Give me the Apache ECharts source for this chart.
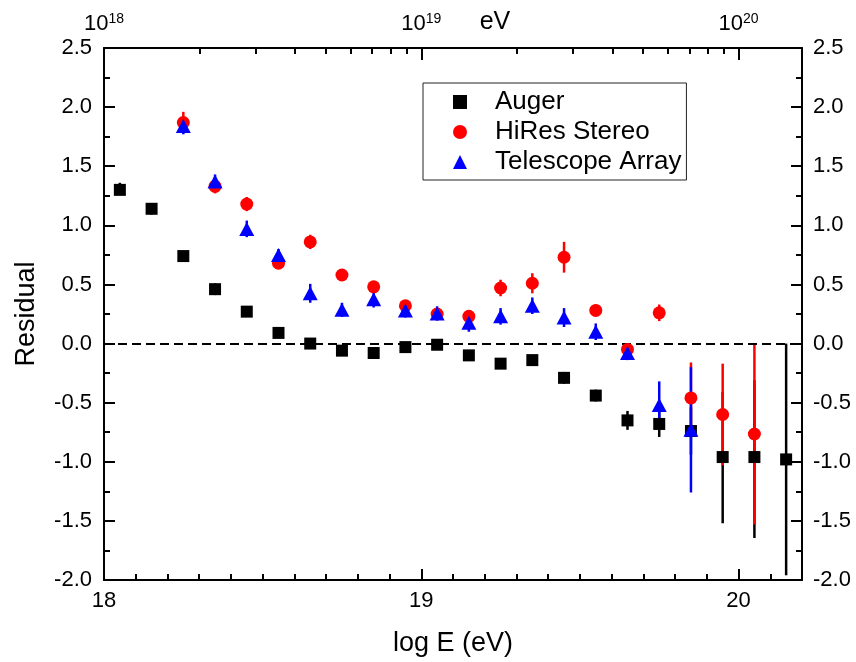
<!DOCTYPE html>
<html>
<head>
<meta charset="utf-8">
<script src="https://cdn.jsdelivr.net/npm/echarts@6/dist/echarts.min.js"></script>
<style>
  html, body { margin: 0; padding: 0; background: #fff; }
  #chart { width: 856px; height: 662px; }
</style>
</head>
<body>
<div id="chart"></div>
<script>
// log10 of energy (bin centres) for each experiment
const augerLogE = [18.05, 18.15, 18.25, 18.35, 18.45, 18.55, 18.65, 18.75, 18.85, 18.95, 19.05,
                   19.15, 19.25, 19.35, 19.45, 19.55, 19.65, 19.75, 19.85, 19.95, 20.05, 20.15];
const augerResidual = [1.30, 1.14, 0.74, 0.46, 0.27, 0.09, 0.00, -0.06, -0.08, -0.03, -0.01,
                       -0.10, -0.17, -0.14, -0.29, -0.44, -0.65, -0.68, -0.74, -0.96, -0.96, -0.98];
const augerErrUp   = [0.06, 0.04, 0.03, 0.05, 0.03, 0.02, 0.02, 0.02, 0.02, 0.02, 0.02,
                      0.03, 0.03, 0.04, 0.05, 0.05, 0.08, 0.10, 0.20, 0.55, 0.65, 0.98];
const augerErrDown = [0.04, 0.05, 0.03, 0.05, 0.03, 0.02, 0.02, 0.02, 0.02, 0.02, 0.02,
                      0.03, 0.03, 0.04, 0.05, 0.05, 0.08, 0.11, 0.20, 0.56, 0.685, 0.98];

const hiresLogE = [18.25, 18.35, 18.45, 18.55, 18.65, 18.75, 18.85, 18.95, 19.05, 19.15,
                   19.25, 19.35, 19.45, 19.55, 19.65, 19.75, 19.85, 19.95, 20.05];
const hiresResidual = [1.87, 1.33, 1.18, 0.68, 0.86, 0.58, 0.48, 0.32, 0.25, 0.23,
                       0.47, 0.51, 0.73, 0.28, -0.05, 0.26, -0.46, -0.60, -0.765];
const hiresErr = [0.09, 0.06, 0.06, 0.04, 0.06, 0.04, 0.04, 0.04, 0.04, 0.04,
                  0.07, 0.085, 0.13, 0.05, 0.04, 0.07, 0.30, 0.43, 0.765];

const taLogE = [18.25, 18.35, 18.45, 18.55, 18.65, 18.75, 18.85, 18.95, 19.05, 19.15,
                19.25, 19.35, 19.45, 19.55, 19.65, 19.75, 19.85];
const taResidual = [1.84, 1.37, 0.97, 0.75, 0.425, 0.285, 0.375, 0.28, 0.255, 0.175,
                    0.23, 0.32, 0.22, 0.10, -0.08, -0.52, -0.73];
const taErr = [0.07, 0.06, 0.07, 0.05, 0.08, 0.06, 0.07, 0.06, 0.06, 0.075,
               0.07, 0.07, 0.08, 0.07, 0.06, 0.20, 0.53];

// axis ticks
const logEMajorTicks = [18, 19, 20];
const logEMinorTicks = [18.1, 18.2, 18.3, 18.4, 18.5, 18.6, 18.7, 18.8, 18.9,
                        19.1, 19.2, 19.3, 19.4, 19.5, 19.6, 19.7, 19.8, 19.9, 20.1];
const decadeExponents = [18, 19, 20];
const decadeMantissas = [2, 3, 4, 5, 6, 7, 8, 9];

const X_MIN = 18, X_MAX = 20.2;
const Y_MIN = -2.0, Y_MAX = 2.5;
const FONT = "'Liberation Sans', Arial, sans-serif";

// log-spaced minor ticks for the energy (eV) axis
const energyMinorTicks = [];
decadeExponents.forEach(function (e) {
  decadeMantissas.forEach(function (m) {
    const v = e + Math.log10(m);
    if (v < X_MAX) energyMinorTicks.push(v);
  });
});

function points(xs, ys) {
  return xs.map(function (x, i) { return [x, ys[i]]; });
}
function bars(xs, ys, down, up) {
  return xs.map(function (x, i) { return [x, ys[i] - down[i], ys[i] + up[i]]; });
}
function errorBarSeries(name, data, color, z) {
  return {
    type: 'custom',
    name: name,
    data: data,
    z: z,
    silent: true,
    encode: { x: 0, y: [1, 2] },
    renderItem: function (params, api) {
      const a = api.coord([api.value(0), api.value(1)]);
      const b = api.coord([api.value(0), api.value(2)]);
      return {
        type: 'line',
        shape: { x1: a[0], y1: a[1], x2: b[0], y2: b[1] },
        style: { stroke: color, lineWidth: 2.5 }
      };
    }
  };
}

const axisLineStyle = { color: '#000', width: 2 };
const labelStyle = { color: '#000', fontFamily: FONT, fontSize: 22 };
const titleStyle = { color: '#000', fontFamily: FONT, fontSize: 27 };

const chart = echarts.init(document.getElementById('chart'), null, { renderer: 'canvas' });

chart.setOption({
  animation: false,
  backgroundColor: '#fff',
  grid: { left: 104, right: 54, top: 48, bottom: 82, containLabel: false, outerBoundsMode: 'none' },
  legend: {
    data: ['Auger', 'HiRes Stereo', 'Telescope Array'],
    orient: 'vertical',
    left: 423,
    top: 83,
    padding: [6, 5, 5, 30],
    itemGap: 4,
    itemWidth: 14,
    itemHeight: 14,
    borderColor: '#222',
    borderWidth: 1,
    selectedMode: false,
    textStyle: { color: '#000', fontFamily: FONT, fontSize: 26, lineHeight: 26, padding: [0, 0, 0, 23] }
  },
  xAxis: [
    { // bottom: log E, labelled integers
      type: 'value', position: 'bottom', min: X_MIN, max: X_MAX,
      name: 'log E (eV)', nameLocation: 'middle', nameGap: 50, nameMoveOverlap: false,
      nameTextStyle: titleStyle,
      axisLine: { show: true, onZero: false, lineStyle: axisLineStyle },
      axisTick: { show: true, inside: true, length: 11, customValues: logEMajorTicks, lineStyle: axisLineStyle },
      axisLabel: { margin: 10, customValues: logEMajorTicks, formatter: function (v) { return String(Math.round(v)); }, ...labelStyle },
      splitLine: { show: false }
    },
    { // bottom: minor ticks
      type: 'value', position: 'bottom', min: X_MIN, max: X_MAX,
      axisLine: { show: false, onZero: false },
      axisTick: { show: true, inside: true, length: 6, customValues: logEMinorTicks, lineStyle: axisLineStyle },
      axisLabel: { show: false },
      splitLine: { show: false }
    },
    { // top: energy in eV, decades
      type: 'value', position: 'top', min: X_MIN, max: X_MAX,
      name: 'eV', nameLocation: 'middle', nameGap: 13, nameMoveOverlap: false,
      nameTextStyle: { color: '#000', fontFamily: FONT, fontSize: 25, padding: [0, 0, 0, 84] },
      axisLine: { show: true, onZero: false, lineStyle: axisLineStyle },
      axisTick: { show: true, inside: true, length: 12, customValues: decadeExponents, lineStyle: axisLineStyle },
      axisLabel: {
        margin: 13,
        customValues: decadeExponents,
        formatter: function (v) { return '{b|10}{s|' + Math.round(v) + '}'; },
        rich: {
          b: { color: '#000', fontFamily: FONT, fontSize: 22 },
          s: { color: '#000', fontFamily: FONT, fontSize: 14, verticalAlign: 'top', padding: [0, 0, 9, 0] }
        }
      },
      splitLine: { show: false }
    },
    { // top: log-spaced minor ticks
      type: 'value', position: 'top', min: X_MIN, max: X_MAX,
      axisLine: { show: false, onZero: false },
      axisTick: { show: true, inside: true, length: 6, customValues: energyMinorTicks, lineStyle: axisLineStyle },
      axisLabel: { show: false },
      splitLine: { show: false }
    }
  ],
  yAxis: [
    {
      type: 'value', position: 'left', min: Y_MIN, max: Y_MAX, interval: 0.5,
      name: 'Residual', nameLocation: 'middle', nameGap: 64, nameMoveOverlap: false,
      nameTextStyle: titleStyle,
      axisLine: { show: true, onZero: false, lineStyle: axisLineStyle },
      axisTick: { show: true, inside: true, length: 11, lineStyle: axisLineStyle },
      minorTick: { show: true, splitNumber: 2, length: 6, lineStyle: axisLineStyle },
      axisLabel: { margin: 12, formatter: function (v) { return v.toFixed(1); }, ...labelStyle },
      splitLine: { show: false }
    },
    {
      type: 'value', position: 'right', min: Y_MIN, max: Y_MAX, interval: 0.5,
      axisLine: { show: true, onZero: false, lineStyle: axisLineStyle },
      axisTick: { show: true, inside: true, length: 11, lineStyle: axisLineStyle },
      minorTick: { show: true, splitNumber: 2, length: 6, lineStyle: axisLineStyle },
      axisLabel: { margin: 11, formatter: function (v) { return v.toFixed(1); }, ...labelStyle },
      splitLine: { show: false }
    }
  ],
  series: [
    { // zero reference line
      type: 'line', name: 'zero', data: [], z: 1, silent: true,
      markLine: {
        silent: true, symbol: ['none', 'none'], label: { show: false },
        lineStyle: { color: '#000', width: 2, type: [9, 5] },
        data: [{ yAxis: 0 }]
      }
    },
    errorBarSeries('Auger error', bars(augerLogE, augerResidual, augerErrDown, augerErrUp), '#000', 2),
    errorBarSeries('HiRes error', bars(hiresLogE, hiresResidual, hiresErr, hiresErr), '#ff0000', 3),
    errorBarSeries('TA error', bars(taLogE, taResidual, taErr, taErr), '#0000ff', 4),
    {
      type: 'scatter', name: 'Auger', data: points(augerLogE, augerResidual), z: 5,
      symbol: 'rect', symbolSize: 12, itemStyle: { color: '#000', opacity: 1 }
    },
    {
      type: 'scatter', name: 'HiRes Stereo', data: points(hiresLogE, hiresResidual), z: 6,
      symbol: 'circle', symbolSize: 13, itemStyle: { color: '#ff0000', opacity: 1 }
    },
    {
      type: 'scatter', name: 'Telescope Array', data: points(taLogE, taResidual), z: 7,
      symbol: 'triangle', symbolSize: [15, 14], itemStyle: { color: '#0000ff', opacity: 1 }
    }
  ]
});
</script>
</body>
</html>
